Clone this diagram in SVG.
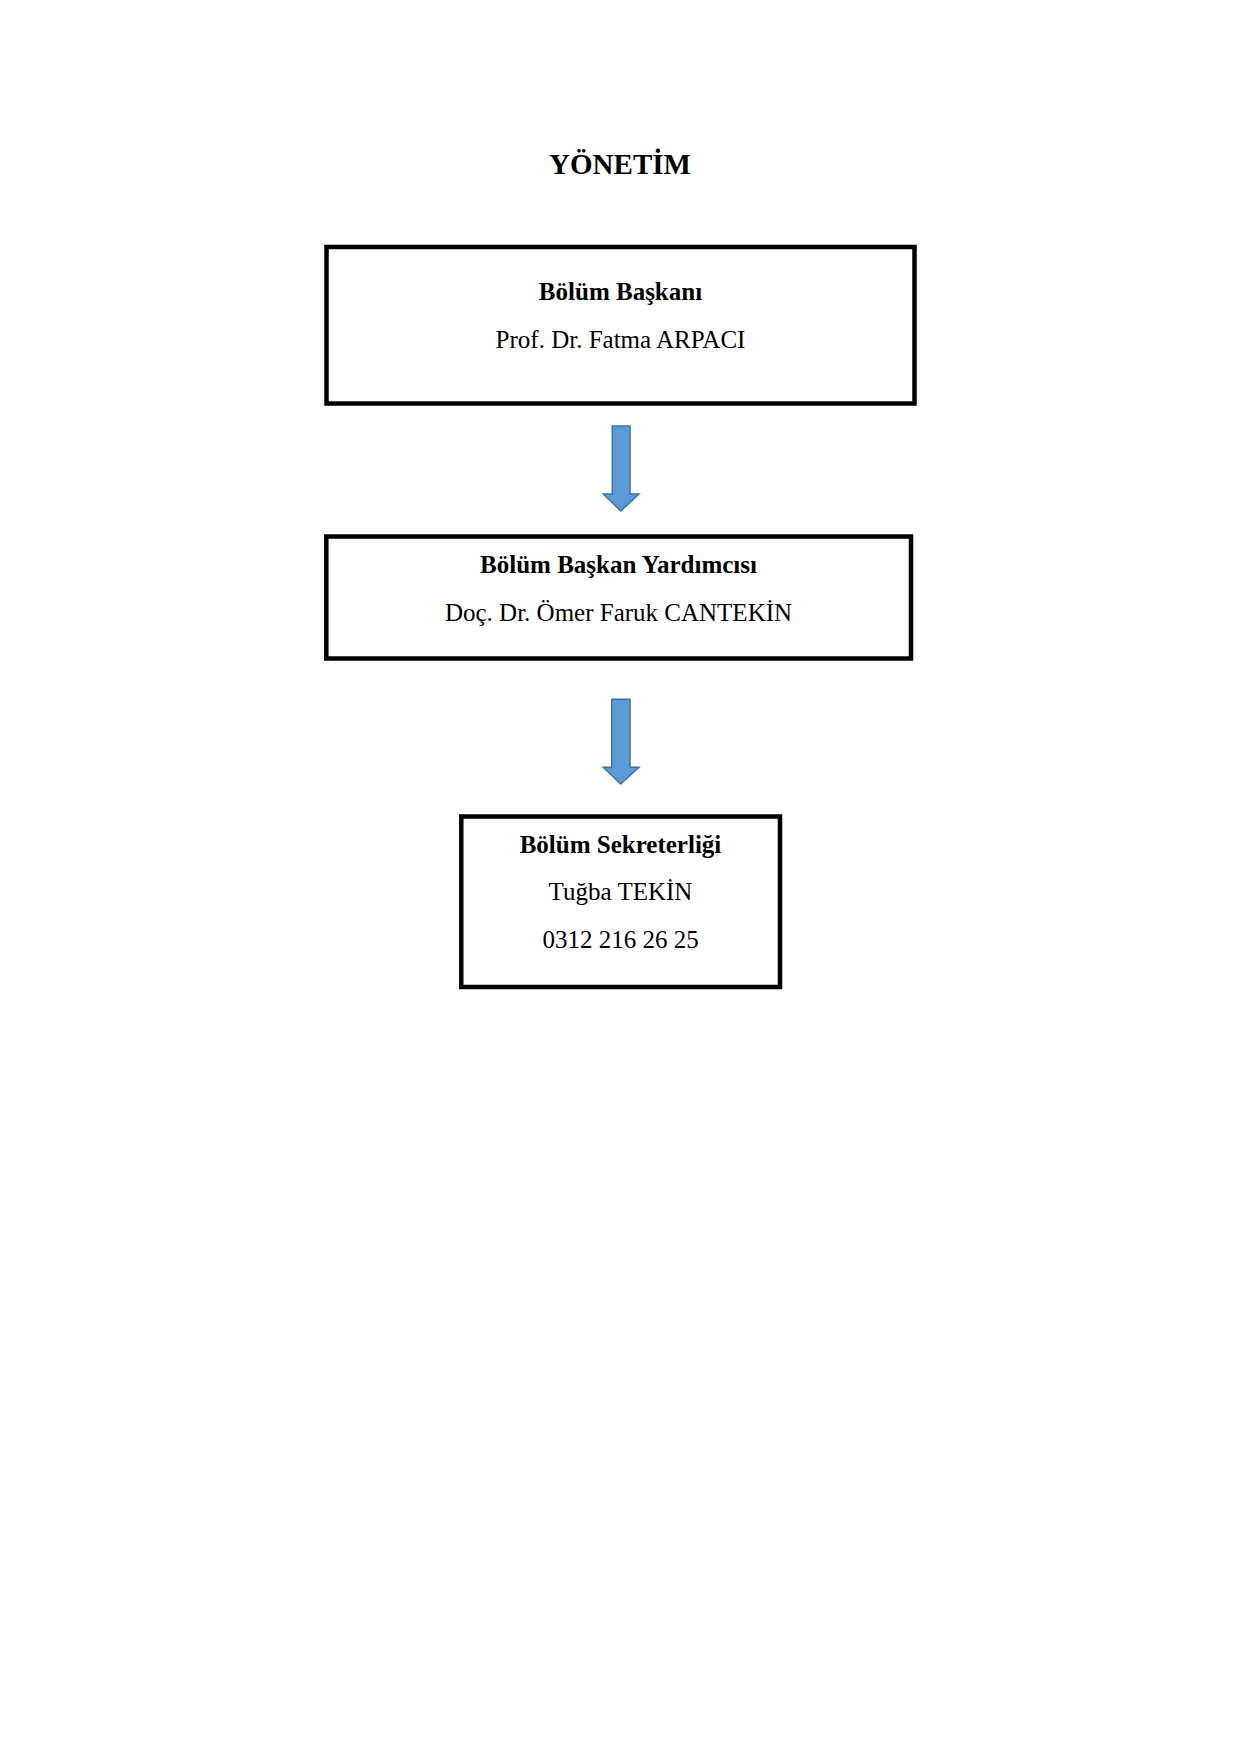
<svg xmlns="http://www.w3.org/2000/svg" width="1241" height="1755" viewBox="0 0 1241 1755">
<style>
.box{fill:#fff;stroke:#000;stroke-width:4.5}
.t{font-family:"Liberation Serif","Times New Roman",serif;font-size:25px;text-anchor:middle;fill:#000}
.b{font-weight:bold}
.title{font-family:"Liberation Serif","Times New Roman",serif;font-size:29px;font-weight:bold;text-anchor:middle;fill:#000}
.arr{fill:#5B9BD5;stroke:#41719C;stroke-width:1.5;stroke-linejoin:miter}
</style>
<rect width="1241" height="1755" fill="#fff"/>
<text class="title" x="620" y="174">YÖNETİM</text>
<g id="node-baskan">
<rect class="box" x="326.5" y="247" width="588" height="156.5"/>
<text class="t b" x="620.5" y="300">Bölüm Başkanı</text>
<text class="t" x="620.5" y="348">Prof. Dr. Fatma ARPACI</text>
</g>
<g id="node-yardimci">
<rect class="box" x="326.3" y="536.5" width="584.7" height="122"/>
<text class="t b" x="618.5" y="573">Bölüm Başkan Yardımcısı</text>
<text class="t" x="618.5" y="621">Doç. Dr. Ömer Faruk CANTEKİN</text>
</g>
<g id="node-sekreter">
<rect class="box" x="461.3" y="816.5" width="318.7" height="170.5"/>
<text class="t b" x="620.5" y="853">Bölüm Sekreterliği</text>
<text class="t" x="620.5" y="900">Tuğba TEKİN</text>
<text class="t" x="620.5" y="948">0312 216 26 25</text>
</g>
<g id="connectors">
<path class="arr" d="M612.3,426 H630 V494 H639 L620.7,511 L603.3,494 H612.3 Z"/>
<path class="arr" d="M611.7,699.3 H630 V767.3 H639 L620.7,784 L603.3,767.3 H611.7 Z"/>
</g>
</svg>
